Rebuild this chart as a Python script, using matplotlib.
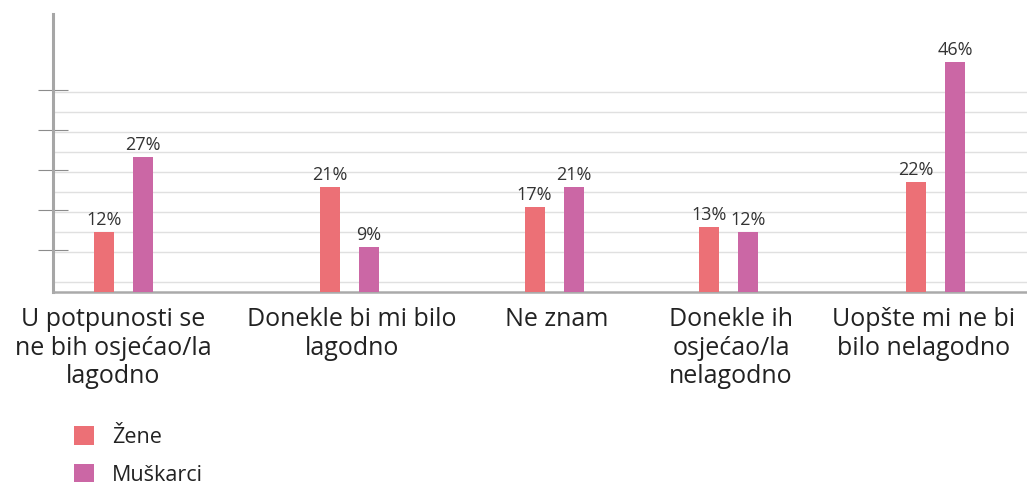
import numpy as np
import matplotlib
matplotlib.use("Agg")
import matplotlib.pyplot as plt

# data
categories = ["U potpunosti se\nne bih osjećao/la\nlagodno",
              "Donekle bi mi bilo\nlagodno",
              "Ne znam",
              "Donekle ih\nosjećao/la\nnelagodno",
              "Uopšte mi ne bi\nbilo nelagodno"]
series_names = ["Žene", "Muškarci"]
zene = [12, 21, 17, 13, 22]
muskarci = [27, 9, 21, 12, 46]

# layout (x in pixel-like units, groups are not evenly spaced in the original)
group_x = np.array([71, 297, 501.5, 676, 883])
label_x = [60.5, 299.5, 504.5, 678.5, 871.5]
grid_y = [2, 8, 12, 16, 20, 24, 28, 32, 36, 40]
tick_y = [8.3, 16.3, 24.3, 32.3, 40.4]
colors = ["#EC7076", "#CB67A5"]

plt.rcParams['font.family'] = ['Open Sans', 'DejaVu Sans']

fig = plt.figure(figsize=(10.27, 4.87), dpi=100)
ax = fig.add_axes([52.5/1027, (487-291.5)/487, 1-52.5/1027, (291.5-14)/487])

bw = 20
off = 19.5
b1 = ax.bar(group_x - off, zene, width=bw, color=colors[0], label=series_names[0], zorder=3)
b2 = ax.bar(group_x + off, muskarci, width=bw, color=colors[1], label=series_names[1], zorder=3)

for b, vals in [(b1, zene), (b2, muskarci)]:
    ax.bar_label(b, labels=[f"{v}%" for v in vals], padding=2, fontsize=13, color="#333333")

for g in grid_y:
    ax.axhline(g, color="#e0e0e0", lw=1.0, zorder=1)

ax.set_xlim(0, 974.5)
ax.set_ylim(0, 55.5)

ax.set_yticks(tick_y)
ax.set_yticklabels([])
ax.tick_params(axis='y', direction='inout', length=21, width=0.8, color="#8c8c8c")

ax.set_xticks(label_x)
ax.set_xticklabels(categories, fontsize=18, color="#222222", linespacing=1.2)
ax.tick_params(axis='x', length=0, pad=11)

for s in ["top", "right"]:
    ax.spines[s].set_visible(False)
ax.spines["left"].set_color("#a6a6a6")
ax.spines["left"].set_linewidth(2.2)
ax.spines["bottom"].set_color("#aaaaaa")
ax.spines["bottom"].set_linewidth(1.8)

fig.legend(handles=[b1, b2], loc="upper left", bbox_to_anchor=(74/1027, 1-426/487),
           frameon=False, fontsize=15.5, handlelength=0.95, handleheight=0.95,
           handletextpad=0.8, labelspacing=0.75, borderpad=0, borderaxespad=0,
           labelcolor="#222222")

fig.savefig("out.png", dpi=100)
